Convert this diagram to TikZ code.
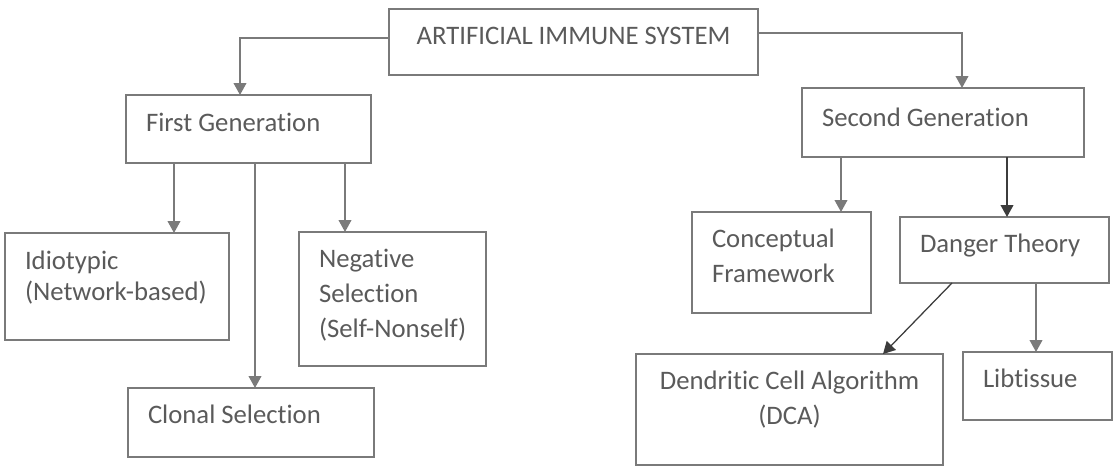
\documentclass[tikz,border=0pt]{standalone}
\usepackage{fontspec}
\setmainfont{Carlito}[Ligatures=NoCommon]
\usepackage{tikz}
\usetikzlibrary{arrows.meta}
\hyphenpenalty=10000
\exhyphenpenalty=10000
\definecolor{linegray}{HTML}{7A7A7A}
\definecolor{textgray}{HTML}{5A5A5A}
\definecolor{darkline}{HTML}{3C3C3C}
\tikzset{
	blk/.style={draw=linegray, line width=1.2pt, text=textgray, inner xsep=0.5cm, inner ysep=0pt, outer sep=0pt, align=flush left, text height=12.2pt, text depth=8pt, font=\fontsize{19}{25}\selectfont},
	arr/.style={draw=linegray, line width=1.2pt, -{Triangle[width=9pt,length=8.5pt]}},
}

\begin{document}
\begin{tikzpicture}
		\useasboundingbox (0,0) rectangle (27.925,11.65);
		% Boxes:
		\node[blk, align=flush center, minimum width=9.225cm, minimum height=1.65cm](ais) at (14.3375, 10.6){ARTIFICIAL IMMUNE SYSTEM};
		\node[blk, text width=5.125cm, minimum height=1.7cm](first) at (6.2125, 8.425){First Generation};
		\node[blk, text width=6.05cm, minimum height=1.725cm, text depth=6.5pt](second) at (23.575, 8.5875){Second Generation};
		\node[blk, text width=4.6cm, minimum height=2.675cm, text depth=35.7pt, font=\fontsize{19}{21.5}\selectfont](idio) at (2.925, 4.4875){Idiotypic\\(Network-based)};
		\node[blk, text width=3.675cm, minimum height=3.35cm, text depth=57.2pt](neg) at (9.8125, 4.175){Negative\\Selection\\(Self-Nonself)};
		\node[blk, text width=5.15cm, minimum height=1.725cm, text depth=11pt](clonal) at (6.275, 1.0875){Clonal Selection};
		\node[blk, text width=3.475cm, minimum height=2.525cm, text depth=33.6pt](concept) at (19.5375, 5.0875){Conceptual\\Framework};
		\node[blk, text width=4.225cm, minimum height=1.65cm](danger) at (25.1125, 5.4){Danger Theory};
		\node[blk, align=flush center, text width=6.675cm, minimum height=2.775cm, text depth=40.6pt](dca) at (19.7375, 1.4125){Dendritic Cell Algorithm\\(DCA)};
		\node[blk, text width=2.725cm, minimum height=1.7cm, text depth=10.5pt](lib) at (25.9375, 2.0){Libtissue};
		% Arrows:
		\draw[arr] ([yshift=0.1cm]ais.west) -| ([xshift=-0.2125cm]first.north);
		\draw[arr] ([yshift=0.225cm]ais.east) -| ([xshift=0.475cm]second.north);
		\draw[arr] (first.south -| 4.35,0) -- (idio.north -| 4.35,0);
		\draw[arr] (first.south -| 6.375,0) -- (clonal.north -| 6.375,0);
		\draw[arr] (first.south -| 8.625,0) -- (neg.north -| 8.625,0);
		\draw[arr] (second.south -| 21.025,0) -- (concept.north -| 21.025,0);
		\draw[arr, draw=darkline] (second.south -| 25.175,0) -- (danger.north -| 25.175,0);
		\draw[arr, draw=darkline, line width=0.9pt] (danger.south -| 23.8,0) -- (dca.north -| 22.075,0);
		\draw[arr] (danger.south -| 25.9,0) -- (lib.north -| 25.9,0);
	\end{tikzpicture}
\end{document}
